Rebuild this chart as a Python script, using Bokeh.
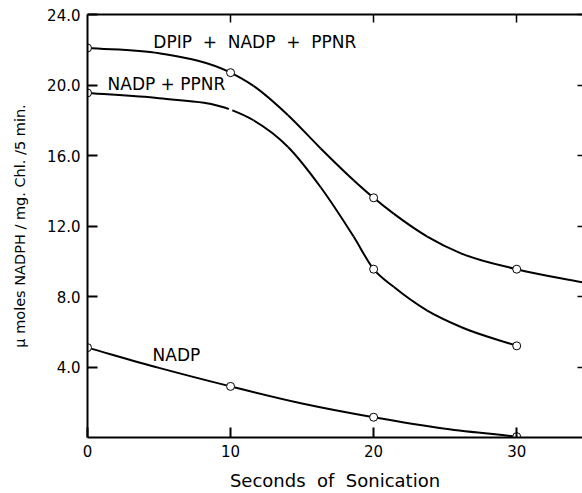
from bokeh.plotting import figure
from bokeh.models import (LinearAxis, FixedTicker, NumeralTickFormatter, Label,
                          Range1d, ColumnDataSource)
from bokeh.embed import file_html
from bokeh.resources import INLINE

# Measured points (seconds of sonication vs. umoles NADPH / mg Chl / 5 min)
sec = [0, 10, 20, 30]
dpip_nadp_ppnr = [22.1, 20.7, 13.6, 9.55]
nadp_ppnr = [19.55, 18.6, 9.55, 5.2]
nadp = [5.1, 2.9, 1.15, 0.05]

# Hand-drawn curve paths through the points
curve_dpip_x = [0, 5, 10, 11.6, 14, 16.3, 18.6, 20, 21.4, 23.75, 26.1, 30, 34.6]
curve_dpip_y = [22.1, 21.8, 20.7, 19.95, 18.3, 16.4, 14.6, 13.6, 12.7, 11.4,
                10.45, 9.55, 8.8]
curve_np_x = [0, 5, 10, 11.6, 14, 16.3, 18.6, 20, 21.4, 23.75, 26.1, 30]
curve_np_y = [19.55, 19.25, 18.6, 18.0, 16.5, 14.2, 11.4, 9.55, 8.55, 7.2,
              6.27, 5.2]
curve_nadp_x = [0, 5, 10, 15, 20, 25, 30]
curve_nadp_y = [5.1, 3.95, 2.9, 1.93, 1.15, 0.5, 0.05]

y_ticks = [4, 8, 12, 16, 20, 24]
x_ticks = [0, 10, 20, 30]

FONT = "DejaVu Sans"
SP2 = "\u00a0\u00a0"  # wide gap that survives whitespace collapsing


def smooth_path(xs, ys):
    """Cubic Hermite curve through the points, as Bezier segments."""
    n = len(xs)
    h = [xs[i + 1] - xs[i] for i in range(n - 1)]
    d = [(ys[i + 1] - ys[i]) / h[i] for i in range(n - 1)]
    m = [d[0]]
    for i in range(1, n - 1):
        m.append((h[i - 1] * d[i] + h[i] * d[i - 1]) / (h[i - 1] + h[i]))
    m.append(d[-1])
    out = dict(x0=[], y0=[], x1=[], y1=[], cx0=[], cy0=[], cx1=[], cy1=[])
    for i in range(n - 1):
        out["x0"].append(xs[i]); out["y0"].append(ys[i])
        out["x1"].append(xs[i + 1]); out["y1"].append(ys[i + 1])
        out["cx0"].append(xs[i] + h[i] / 3.0)
        out["cy0"].append(ys[i] + m[i] * h[i] / 3.0)
        out["cx1"].append(xs[i + 1] - h[i] / 3.0)
        out["cy1"].append(ys[i + 1] - m[i + 1] * h[i] / 3.0)
    return ColumnDataSource(out)


p = figure(width=582, height=493, output_backend="svg", toolbar_location=None,
           x_range=Range1d(0, 34.6), y_range=Range1d(0, 24),
           min_border_left=87, min_border_bottom=56, min_border_top=14,
           min_border_right=0)
p.grid.visible = False
p.outline_line_color = None
p.background_fill_color = "white"
p.border_fill_color = "white"

# Left axis
ya = p.yaxis[0]
ya.ticker = FixedTicker(ticks=y_ticks)
ya.formatter = NumeralTickFormatter(format="0.0")
ya.axis_label = "\u03bc moles NADPH / mg. Chl. /5 min."
# Bottom axis
xa = p.xaxis[0]
xa.ticker = FixedTicker(ticks=x_ticks)
xa.axis_label = "Seconds" + SP2 + "of" + SP2 + "Sonication"

for ax in (ya, xa):
    ax.axis_line_width = 2
    ax.axis_line_color = "black"
    ax.major_tick_in = 10
    ax.major_tick_out = 0
    ax.major_tick_line_width = 2
    ax.minor_tick_line_color = None
    ax.major_label_text_font = FONT
    ax.major_label_text_font_size = "15px"
    ax.major_label_text_color = "black"
    ax.axis_label_text_font = FONT
    ax.axis_label_text_font_style = "normal"
    ax.axis_label_text_color = "black"

ya.axis_label_text_font_size = "14.5px"
ya.axis_label_standoff = 16
ya.major_label_standoff = 7
xa.axis_label_text_font_size = "18px"
xa.axis_label_standoff = 10
xa.major_label_standoff = 7

# Top and right frame edges with inward ticks only
top = LinearAxis(ticker=FixedTicker(ticks=[10, 20, 30]), axis_line_width=2,
                 major_tick_in=8, major_tick_out=0, major_tick_line_width=1.5,
                 minor_tick_line_color=None, major_label_text_font_size="0px",
                 major_label_standoff=0)
p.add_layout(top, "above")
right = LinearAxis(ticker=FixedTicker(ticks=y_ticks), axis_line_color=None,
                   major_tick_in=5, major_tick_out=0, major_tick_line_width=1.5,
                   minor_tick_line_color=None, major_label_text_font_size="0px",
                   major_label_standoff=0)
p.add_layout(right, "right")

# Curves
for cx, cy in ((curve_dpip_x, curve_dpip_y), (curve_np_x, curve_np_y),
               (curve_nadp_x, curve_nadp_y)):
    p.bezier(x0="x0", y0="y0", x1="x1", y1="y1", cx0="cx0", cy0="cy0",
             cx1="cx1", cy1="cy1", source=smooth_path(cx, cy),
             line_color="black", line_width=2)

# Open-circle markers at measured points
p.scatter(sec, dpip_nadp_ppnr, size=8, marker="circle", fill_color="white",
          line_color="black", line_width=1)
p.scatter([sec[0], sec[2], sec[3]], [nadp_ppnr[0], nadp_ppnr[2], nadp_ppnr[3]],
          size=8, marker="circle", fill_color="white", line_color="black",
          line_width=1)
p.scatter([sec[1]], [nadp_ppnr[1]], size=4, marker="circle",
          fill_color="white", line_color=None)
p.scatter(sec, nadp, size=8, marker="circle", fill_color="white",
          line_color="black", line_width=1)

# Curve labels
for x, y, t in ((4.6, 22.45, "DPIP" + SP2 + "+" + SP2 + "NADP" + SP2 + "+" + SP2 + "PPNR"),
                (1.4, 20.05, "NADP + PPNR"),
                (4.55, 4.66, "NADP")):
    p.add_layout(Label(x=x, y=y, text=t, text_font=FONT, text_font_size="17px",
                       text_baseline="middle", text_color="black"))

open("out.html", "w").write(file_html(p, INLINE))
